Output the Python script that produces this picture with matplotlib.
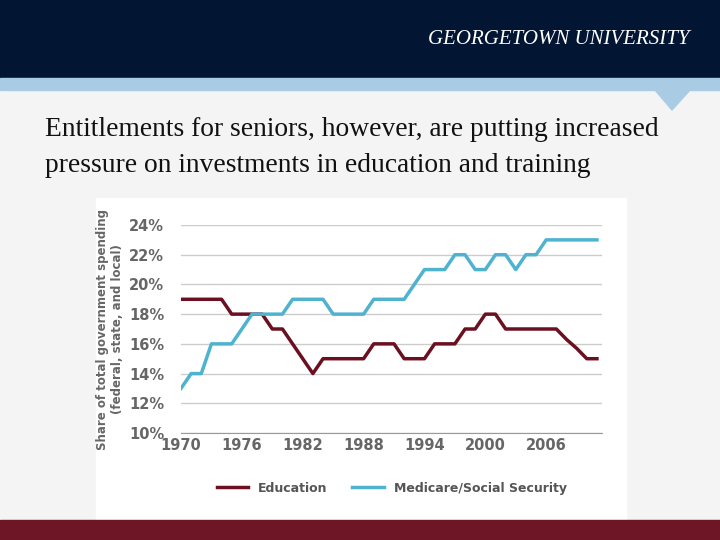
import matplotlib.pyplot as plt
from matplotlib.patches import Rectangle, Polygon

years = list(range(1970, 2012))
education = [19, 19, 19, 19, 19, 18, 18, 18, 18, 17, 17, 16, 15, 14, 15, 15, 15, 15, 15, 16,
             16, 16, 15, 15, 15, 16, 16, 16, 17, 17, 18, 18, 17, 17, 17, 17, 17, 17, 16.3, 15.7,
             15, 15]
medicare = [13, 14, 14, 16, 16, 16, 17, 18, 18, 18, 18, 19, 19, 19, 19, 18, 18, 18, 18, 19,
            19, 19, 19, 20, 21, 21, 21, 22, 22, 21, 21, 22, 22, 21, 22, 22, 23, 23, 23, 23,
            23, 23]
yticks = [10, 12, 14, 16, 18, 20, 22, 24]
xticks = [1970, 1976, 1982, 1988, 1994, 2000, 2006]

W, H = 720, 540
fig = plt.figure(figsize=(7.2, 5.4), dpi=100)
fig.patch.set_facecolor('#f4f4f4')
bg = fig.add_axes([0, 0, 1, 1])
bg.set_xlim(0, W)
bg.set_ylim(H, 0)
bg.axis('off')
bg.add_patch(Rectangle((0, 0), W, 78, color='#021533'))
bg.add_patch(Rectangle((0, 78), W, 12, color='#a9cbe4'))
bg.add_patch(Polygon([(655, 90), (690, 90), (672, 110)], color='#a9cbe4'))
bg.add_patch(Rectangle((0, 520), W, 20, color='#6e1526'))
bg.add_patch(Rectangle((96, 198), 530, 320, color='white'))
bg.text(690, 40, 'GEORGETOWN UNIVERSITY', color='white', fontsize=15, style='italic',
        family='Liberation Serif', ha='right', va='center')
bg.text(45, 130, 'Entitlements for seniors, however, are putting increased', fontsize=19.8,
        family='Liberation Serif', va='center', color='#111111')
bg.text(45, 165, 'pressure on investments in education and training', fontsize=19.8,
        family='Liberation Serif', va='center', color='#111111')

ax = fig.add_axes([181 / W, 1 - 433 / H, (602 - 181) / W, (433 - 225) / H])
ax.plot(years, education, color='#6b1020', lw=2.5, label='Education')
ax.plot(years, medicare, color='#4fb3d0', lw=2.5, label='Medicare/Social Security')
ax.set_xlim(1970, 2011.5)
ax.set_ylim(10, 24)
ax.set_yticks(yticks)
ax.set_yticklabels([f'{v}%' for v in yticks])
ax.set_xticks(xticks)
ax.grid(axis='y', color='#cccccc', lw=1)
ax.set_axisbelow(True)
for s in ['top', 'right', 'left']:
    ax.spines[s].set_visible(False)
ax.spines['bottom'].set_color('#999999')
ax.tick_params(axis='y', length=0, labelsize=10.5, labelcolor='#666666', pad=12)
ax.tick_params(axis='x', length=0, labelsize=10.5, labelcolor='#666666')
for t in ax.get_xticklabels() + ax.get_yticklabels():
    t.set_fontweight('bold')
ax.set_facecolor('white')
ax.set_ylabel('Share of total government spending\n(federal, state, and local)', fontsize=8.5,
              color='#666666', fontweight='bold', labelpad=4)
ax.legend(loc='upper center', bbox_to_anchor=(0.5, -0.18), ncol=2, frameon=False,
          fontsize=9, labelcolor='#555555', handlelength=2.5, columnspacing=2)
for t in ax.get_legend().get_texts():
    t.set_fontweight('bold')

fig.savefig('out.png', dpi=100, facecolor=fig.get_facecolor())
